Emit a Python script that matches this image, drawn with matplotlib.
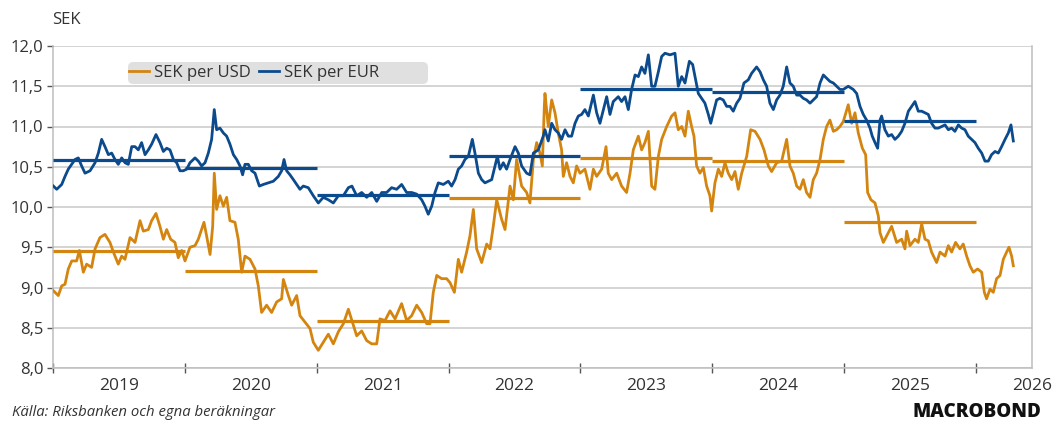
import matplotlib.pyplot as plt
from matplotlib.patches import FancyBboxPatch
import numpy as np

# time as decimal year, values in SEK
usd_t = [2019.003, 2019.040, 2019.066, 2019.091, 2019.116, 2019.142, 2019.179, 2019.200, 2019.230, 2019.255,
         2019.293, 2019.319, 2019.356, 2019.394, 2019.432, 2019.458, 2019.495, 2019.521, 2019.546, 2019.584,
         2019.622, 2019.660, 2019.685, 2019.723, 2019.748, 2019.781, 2019.811, 2019.837, 2019.862, 2019.892,
         2019.925, 2019.950, 2019.976, 2020.001, 2020.039, 2020.077, 2020.102, 2020.145, 2020.165, 2020.191,
         2020.211, 2020.223, 2020.241, 2020.266, 2020.292, 2020.317, 2020.342, 2020.380, 2020.405, 2020.431,
         2020.456, 2020.494, 2020.532, 2020.557, 2020.582, 2020.620, 2020.658, 2020.696, 2020.734, 2020.747,
         2020.785, 2020.810, 2020.848, 2020.873, 2020.911, 2020.949, 2020.974, 2021.012, 2021.050, 2021.088,
         2021.126, 2021.164, 2021.202, 2021.240, 2021.278, 2021.303, 2021.341, 2021.379, 2021.417, 2021.455,
         2021.480, 2021.518, 2021.556, 2021.594, 2021.644, 2021.682, 2021.720, 2021.758, 2021.796, 2021.834,
         2021.859, 2021.884, 2021.910, 2021.947, 2021.985, 2022.011, 2022.044, 2022.074, 2022.099, 2022.137,
         2022.162, 2022.188, 2022.213, 2022.251, 2022.289, 2022.314, 2022.339, 2022.365, 2022.402, 2022.428,
         2022.466, 2022.491, 2022.516, 2022.554, 2022.592, 2022.617, 2022.643, 2022.668, 2022.693, 2022.711,
         2022.726, 2022.731, 2022.756, 2022.782, 2022.807, 2022.832, 2022.857, 2022.870, 2022.895, 2022.921,
         2022.946, 2022.971, 2022.997, 2023.034, 2023.072, 2023.098, 2023.123, 2023.161, 2023.194, 2023.211,
         2023.237, 2023.275, 2023.312, 2023.350, 2023.376, 2023.401, 2023.439, 2023.464, 2023.489, 2023.515,
         2023.540, 2023.565, 2023.591, 2023.616, 2023.654, 2023.692, 2023.717, 2023.742, 2023.768, 2023.793,
         2023.818, 2023.843, 2023.861, 2023.881, 2023.906, 2023.932, 2023.957, 2023.982, 2023.995, 2024.020,
         2024.046, 2024.071, 2024.096, 2024.121, 2024.147, 2024.172, 2024.197, 2024.223, 2024.261, 2024.291,
         2024.324, 2024.362, 2024.392, 2024.425, 2024.450, 2024.488, 2024.526, 2024.564, 2024.589, 2024.614,
         2024.640, 2024.665, 2024.690, 2024.715, 2024.741, 2024.766, 2024.791, 2024.817, 2024.842, 2024.867,
         2024.892, 2024.918, 2024.943, 2024.968, 2024.993, 2025.031, 2025.057, 2025.082, 2025.107, 2025.138,
         2025.163, 2025.178, 2025.203, 2025.234, 2025.259, 2025.272, 2025.297, 2025.322, 2025.360, 2025.398,
         2025.436, 2025.461, 2025.474, 2025.499, 2025.537, 2025.562, 2025.588, 2025.613, 2025.638, 2025.663,
         2025.701, 2025.727, 2025.765, 2025.790, 2025.815, 2025.845, 2025.878, 2025.903, 2025.929, 2025.954,
         2025.979, 2026.012, 2026.043, 2026.063, 2026.080, 2026.106, 2026.131, 2026.156, 2026.182, 2026.207,
         2026.232, 2026.250, 2026.270, 2026.283]
usd = [8.96, 8.90, 9.02, 9.04, 9.23, 9.33, 9.33, 9.46, 9.19, 9.29,
       9.25, 9.48, 9.62, 9.66, 9.56, 9.44, 9.29, 9.39, 9.35, 9.62,
       9.56, 9.83, 9.70, 9.72, 9.83, 9.92, 9.76, 9.60, 9.72, 9.60,
       9.56, 9.37, 9.46, 9.33, 9.50, 9.52, 9.60, 9.81, 9.64, 9.41,
       9.76, 10.42, 9.97, 10.14, 10.01, 10.12, 9.83, 9.81, 9.60, 9.19,
       9.39, 9.35, 9.23, 9.02, 8.69, 8.78, 8.69, 8.82, 8.86, 9.10,
       8.90, 8.78, 8.90, 8.65, 8.57, 8.49, 8.32, 8.22, 8.32, 8.42,
       8.30, 8.45, 8.55, 8.73, 8.53, 8.40, 8.46, 8.34, 8.30, 8.30,
       8.61, 8.59, 8.71, 8.61, 8.80, 8.59, 8.65, 8.78, 8.69, 8.55,
       8.55, 8.94, 9.15, 9.11, 9.11, 9.06, 8.94, 9.35, 9.19, 9.44,
       9.64, 9.97, 9.48, 9.31, 9.54, 9.48, 9.76, 10.09, 9.85, 9.72,
       10.26, 10.09, 10.59, 10.26, 10.18, 10.05, 10.59, 10.80, 10.67, 10.51,
       11.25, 11.41, 11.00, 11.33, 11.17, 10.92, 10.71, 10.38, 10.55, 10.38,
       10.30, 10.51, 10.42, 10.47, 10.22, 10.47, 10.38, 10.47, 10.75, 10.42,
       10.34, 10.42, 10.26, 10.18, 10.42, 10.71, 10.88, 10.71, 10.80, 10.94,
       10.26, 10.22, 10.63, 10.84, 11.00, 11.13, 11.17, 10.96, 11.00, 10.88,
       11.19, 11.00, 10.88, 10.51, 10.42, 10.49, 10.26, 10.14, 9.95, 10.30,
       10.47, 10.38, 10.55, 10.42, 10.34, 10.44, 10.22, 10.42, 10.63, 10.96,
       10.94, 10.84, 10.71, 10.51, 10.44, 10.55, 10.57, 10.84, 10.51, 10.42,
       10.26, 10.22, 10.34, 10.18, 10.12, 10.34, 10.42, 10.59, 10.84, 11.00,
       11.08, 10.94, 10.96, 11.00, 11.06, 11.27, 11.04, 11.17, 10.92, 10.73,
       10.65, 10.18, 10.09, 10.05, 9.89, 9.68, 9.56, 9.64, 9.76, 9.56,
       9.60, 9.48, 9.70, 9.52, 9.60, 9.56, 9.79, 9.60, 9.58, 9.44,
       9.31, 9.44, 9.39, 9.52, 9.44, 9.56, 9.48, 9.54, 9.39, 9.27,
       9.19, 9.23, 9.19, 8.94, 8.86, 8.98, 8.94, 9.11, 9.15, 9.35,
       9.44, 9.50, 9.39, 9.27]

eur_t = [2019.003, 2019.028, 2019.066, 2019.091, 2019.116, 2019.142, 2019.167, 2019.192, 2019.217, 2019.243,
         2019.281, 2019.319, 2019.344, 2019.369, 2019.394, 2019.420, 2019.445, 2019.470, 2019.495, 2019.521,
         2019.546, 2019.571, 2019.597, 2019.622, 2019.647, 2019.672, 2019.698, 2019.723, 2019.748, 2019.781,
         2019.811, 2019.837, 2019.862, 2019.887, 2019.913, 2019.938, 2019.963, 2019.988, 2020.014, 2020.039,
         2020.077, 2020.102, 2020.127, 2020.153, 2020.178, 2020.203, 2020.223, 2020.241, 2020.266, 2020.292,
         2020.317, 2020.342, 2020.368, 2020.393, 2020.418, 2020.438, 2020.456, 2020.481, 2020.507, 2020.532,
         2020.565, 2020.595, 2020.633, 2020.671, 2020.709, 2020.734, 2020.752, 2020.772, 2020.797, 2020.823,
         2020.873, 2020.898, 2020.936, 2020.974, 2021.012, 2021.050, 2021.088, 2021.126, 2021.164, 2021.202,
         2021.240, 2021.267, 2021.303, 2021.341, 2021.379, 2021.417, 2021.455, 2021.493, 2021.530, 2021.568,
         2021.606, 2021.644, 2021.682, 2021.720, 2021.758, 2021.796, 2021.821, 2021.846, 2021.872, 2021.897,
         2021.922, 2021.960, 2021.998, 2022.023, 2022.049, 2022.074, 2022.099, 2022.124, 2022.150, 2022.180,
         2022.200, 2022.226, 2022.251, 2022.276, 2022.301, 2022.327, 2022.352, 2022.370, 2022.390, 2022.415,
         2022.440, 2022.466, 2022.504, 2022.529, 2022.554, 2022.592, 2022.617, 2022.643, 2022.681, 2022.718,
         2022.731, 2022.756, 2022.782, 2022.807, 2022.832, 2022.857, 2022.883, 2022.908, 2022.933, 2022.959,
         2022.984, 2023.009, 2023.034, 2023.060, 2023.098, 2023.123, 2023.148, 2023.174, 2023.199, 2023.224,
         2023.249, 2023.287, 2023.312, 2023.338, 2023.363, 2023.388, 2023.414, 2023.439, 2023.464, 2023.489,
         2023.515, 2023.540, 2023.565, 2023.591, 2023.616, 2023.641, 2023.679, 2023.717, 2023.742, 2023.768,
         2023.793, 2023.826, 2023.851, 2023.869, 2023.894, 2023.919, 2023.944, 2023.970, 2023.988, 2024.008,
         2024.033, 2024.058, 2024.083, 2024.109, 2024.134, 2024.159, 2024.185, 2024.210, 2024.240, 2024.273,
         2024.298, 2024.336, 2024.362, 2024.387, 2024.412, 2024.437, 2024.463, 2024.488, 2024.513, 2024.538,
         2024.564, 2024.589, 2024.614, 2024.640, 2024.665, 2024.690, 2024.715, 2024.741, 2024.766, 2024.791,
         2024.817, 2024.842, 2024.867, 2024.892, 2024.918, 2024.943, 2024.968, 2024.993, 2025.031, 2025.069,
         2025.095, 2025.120, 2025.145, 2025.170, 2025.196, 2025.213, 2025.234, 2025.254, 2025.272, 2025.284,
         2025.309, 2025.335, 2025.360, 2025.385, 2025.411, 2025.436, 2025.461, 2025.487, 2025.512, 2025.537,
         2025.562, 2025.588, 2025.613, 2025.638, 2025.663, 2025.689, 2025.714, 2025.739, 2025.765, 2025.790,
         2025.815, 2025.840, 2025.866, 2025.891, 2025.916, 2025.941, 2025.967, 2025.992, 2026.017, 2026.043,
         2026.068, 2026.093, 2026.118, 2026.144, 2026.169, 2026.194, 2026.220, 2026.245, 2026.265, 2026.283]
eur = [10.26, 10.22, 10.28, 10.38, 10.47, 10.53, 10.59, 10.61, 10.51, 10.42,
       10.45, 10.55, 10.67, 10.84, 10.75, 10.65, 10.67, 10.59, 10.53, 10.61,
       10.55, 10.53, 10.75, 10.75, 10.71, 10.80, 10.65, 10.71, 10.78, 10.90,
       10.80, 10.69, 10.73, 10.71, 10.59, 10.55, 10.45, 10.45, 10.47, 10.55,
       10.61, 10.57, 10.51, 10.55, 10.67, 10.84, 11.21, 10.96, 10.98, 10.92,
       10.88, 10.78, 10.65, 10.59, 10.51, 10.40, 10.53, 10.53, 10.45, 10.42,
       10.26, 10.28, 10.30, 10.32, 10.38, 10.45, 10.59, 10.45, 10.40, 10.34,
       10.22, 10.26, 10.24, 10.14, 10.05, 10.12, 10.09, 10.05, 10.14, 10.14,
       10.24, 10.26, 10.14, 10.18, 10.12, 10.18, 10.07, 10.18, 10.18, 10.24,
       10.22, 10.28, 10.18, 10.18, 10.16, 10.09, 10.01, 9.91, 10.01, 10.18,
       10.30, 10.28, 10.32, 10.26, 10.34, 10.47, 10.51, 10.59, 10.63, 10.84,
       10.67, 10.42, 10.34, 10.30, 10.32, 10.34, 10.51, 10.63, 10.47, 10.55,
       10.47, 10.59, 10.75, 10.67, 10.51, 10.42, 10.40, 10.67, 10.71, 10.88,
       10.96, 10.82, 11.04, 10.96, 10.92, 10.84, 10.96, 10.88, 10.88, 11.04,
       11.13, 11.15, 11.21, 11.13, 11.39, 11.17, 11.04, 11.21, 11.37, 11.15,
       11.31, 11.37, 11.31, 11.37, 11.21, 11.46, 11.64, 11.62, 11.74, 11.66,
       11.89, 11.50, 11.50, 11.68, 11.87, 11.91, 11.89, 11.91, 11.50, 11.62,
       11.54, 11.81, 11.77, 11.62, 11.41, 11.35, 11.29, 11.15, 11.04, 11.17,
       11.33, 11.35, 11.33, 11.25, 11.25, 11.19, 11.29, 11.35, 11.54, 11.58,
       11.66, 11.74, 11.68, 11.58, 11.50, 11.29, 11.21, 11.33, 11.39, 11.50,
       11.74, 11.54, 11.50, 11.39, 11.39, 11.35, 11.33, 11.29, 11.33, 11.37,
       11.54, 11.64, 11.60, 11.56, 11.54, 11.50, 11.46, 11.46, 11.50, 11.46,
       11.41, 11.25, 11.15, 11.08, 10.98, 10.88, 10.80, 10.73, 11.08, 11.13,
       10.96, 10.88, 10.90, 10.84, 10.88, 10.94, 11.04, 11.19, 11.25, 11.31,
       11.19, 11.19, 11.17, 11.15, 11.04, 10.98, 10.98, 11.00, 11.02, 10.96,
       10.98, 10.94, 11.02, 10.98, 10.96, 10.88, 10.84, 10.80, 10.73, 10.67,
       10.57, 10.57, 10.65, 10.69, 10.67, 10.75, 10.84, 10.92, 11.02, 10.82]

# annual averages
years = [2019, 2020, 2021, 2022, 2023, 2024, 2025]
usd_avg = [9.45, 9.20, 8.58, 10.11, 10.61, 10.57, 9.81]
eur_avg = [10.59, 10.49, 10.15, 10.63, 11.47, 11.43, 11.07]

orange = '#D4850F'
blue = '#0B4A8C'
grid_c = '#C9C9C9'
txt_c = '#333333'
W, H = 1054, 422

plt.rcParams['font.family'] = ['Open Sans', 'DejaVu Sans']

fig = plt.figure(figsize=(W / 100, H / 100), dpi=100)
ax = fig.add_axes([53 / W, 1 - 368 / H, (1032 - 53) / W, (368 - 46) / H])

ax.plot(usd_t, usd, color=orange, lw=2.0, label='SEK per USD', zorder=3)
ax.plot(eur_t, eur, color=blue, lw=2.0, label='SEK per EUR', zorder=3)
for i, y in enumerate(years):
    ax.plot([y, y + 1], [usd_avg[i], usd_avg[i]], color=orange, lw=2.3, solid_capstyle='butt', zorder=4)
    ax.plot([y, y + 1], [eur_avg[i], eur_avg[i]], color=blue, lw=2.3, solid_capstyle='butt', zorder=4)

xmax = 2019 + (1032 - 53) / 131.86
ax.set_xlim(2019, xmax)
ax.set_ylim(8, 12)

yt = np.arange(8, 12.01, 0.5)
ax.set_yticks(yt)
ax.set_yticklabels([f'{v:.1f}'.replace('.', ',') for v in yt], fontsize=12, color=txt_c)
ax.yaxis.grid(True, color=grid_c, lw=1.1)
ax.set_axisbelow(True)

ax.set_xticks(range(2019, 2027))
ax.set_xticklabels([])
minor_pos = [y + 0.5 for y in range(2019, 2026)] + [xmax]
ax.set_xticks(minor_pos, minor=True)
ax.set_xticklabels([str(y) for y in range(2019, 2027)], minor=True, fontsize=12.5, color=txt_c)
ax.tick_params(axis='x', which='major', direction='inout', length=7, color='#555555', width=1)
ax.tick_params(axis='x', which='minor', length=0, pad=7)
ax.tick_params(axis='y', direction='out', length=4, color='#555555', width=1, pad=3)

for s in ['left', 'bottom', 'right']:
    ax.spines[s].set_color('#BDBDBD')
    ax.spines[s].set_linewidth(1.1)
ax.spines['top'].set_visible(False)

# legend background box
box = FancyBboxPatch((128 / W, 1 - 84 / H), 300 / W, 22 / H,
                     boxstyle='round,pad=0,rounding_size=0.005', mutation_aspect=W / H,
                     transform=fig.transFigure, facecolor='#E0E0E0', edgecolor='none',
                     clip_on=False, zorder=5)
ax.add_patch(box)
leg = ax.legend(loc='center left', bbox_to_anchor=(129 / W, 1 - 73 / H), bbox_transform=fig.transFigure,
                ncol=2, fontsize=12, handlelength=1.2, handletextpad=0.3, columnspacing=0.5,
                frameon=False, borderpad=0, borderaxespad=0)
leg.set_zorder(6)
for t in leg.get_texts():
    t.set_color(txt_c)

fig.text(52 / W, 1 - 20 / H, 'SEK', fontsize=12, color=txt_c, va='center', ha='left')
fig.text(12 / W, 1 - 413 / H, 'Källa: Riksbanken och egna beräkningar', fontsize=10.7,
         style='italic', color=txt_c, va='center', ha='left')
fig.text(1041 / W, 1 - 412 / H, 'MACROBOND', fontsize=13.5, fontweight='heavy',
         color='#111111', va='center', ha='right')

fig.savefig('out.png', dpi=100)
